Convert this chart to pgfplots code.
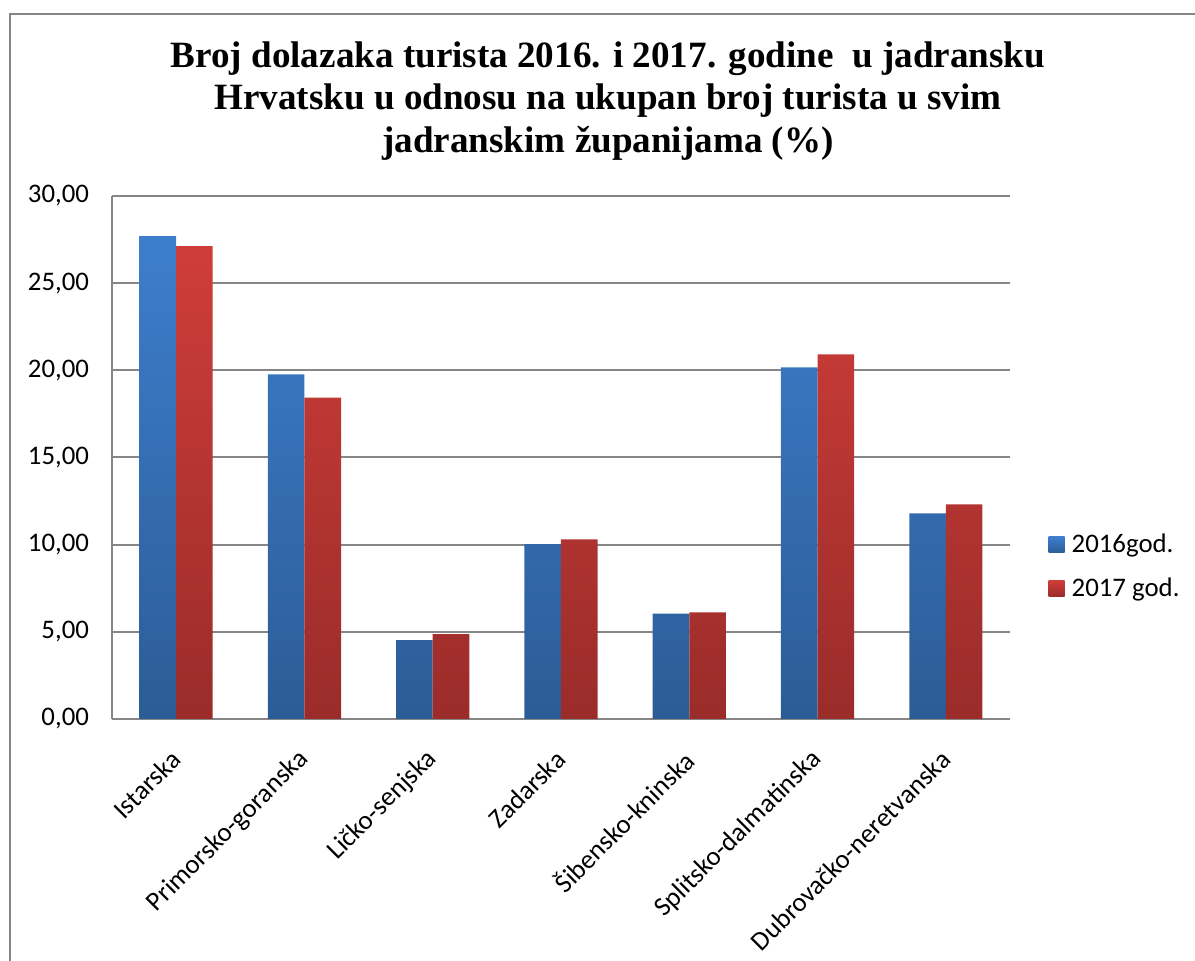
\documentclass[border=0pt]{standalone}
\usepackage{fontspec}
\setmainfont{Liberation Serif}
\newfontfamily\calibri{Carlito}
\usepackage{pgfplots}
\pgfplotsset{compat=1.18}
\definecolor{btop}{RGB}{61,126,205}
\definecolor{bbot}{RGB}{44,92,150}
\definecolor{rtop}{RGB}{207,61,57}
\definecolor{rbot}{RGB}{154,44,42}
\definecolor{gridc}{RGB}{134,134,134}
\begin{document}
\begin{tikzpicture}
\path[use as bounding box] (0,0) rectangle (597.5pt,480.5pt);
\draw[gridc, line width=1pt] (5pt,0) -- (5pt,473.5pt) -- (597.5pt,473.5pt);
\node[anchor=base, font=\fontsize{18.55}{21}\selectfont\bfseries] at (304pt,446.8pt) {Broj dolazaka turista 2016. i 2017. godine\ \ u jadransku};
\node[anchor=base, font=\fontsize{18.55}{21}\selectfont\bfseries] at (304pt,425.5pt) {Hrvatsku u odnosu na ukupan broj turista u svim};
\node[anchor=base, font=\fontsize{18.55}{21}\selectfont\bfseries] at (304pt,404pt) {jadranskim županijama (\%)};
\begin{axis}[
  at={(56pt,121pt)}, anchor=south west,
  scale only axis, width=449pt, height=261.5pt,
  xmin=-0.5, xmax=6.5, ymin=0, ymax=30,
  ytick={0,5,...,30},
  xtick={0,...,6},
  xticklabels={Istarska,Primorsko-goranska,Ličko-senjska,Zadarska,Šibensko-kninska,Splitsko-dalmatinska,Dubrovačko-neretvanska},
  axis x line*=bottom, axis y line*=left,
  axis line style={gridc, line width=1pt},
  ymajorgrids, grid style={gridc, line width=1pt},
  major tick length=0pt,
  tick label style={font=\fontsize{13.4}{15}\selectfont\calibri},
  /pgf/number format/.cd, fixed, fixed zerofill, precision=2, use comma, assume math mode=true,
  /pgfplots/.cd,
  yticklabel style={xshift=-8pt},
  xticklabel style={rotate=45, anchor=east, inner sep=0pt},
  xticklabel shift=18pt,
  ybar=0pt, bar width=18.3pt,
  legend style={at={(1.036,0.291)}, anchor=west, draw=none, fill=none,
    font=\fontsize{13.4}{15}\selectfont\calibri, row sep=7pt,
    /tikz/every odd column/.append style={column sep=1.5pt}},
  legend image code/.code={\path[#1] (0pt,-4pt) rectangle (8pt,4pt);},
  legend cell align=left,
]
\addplot[draw=none, top color=btop, bottom color=bbot] coordinates {(0,27.70) (1,19.77) (2,4.52) (3,10.03) (4,6.05) (5,20.17) (6,11.79)};
\addplot[draw=none, top color=rtop, bottom color=rbot] coordinates {(0,27.13) (1,18.43) (2,4.87) (3,10.30) (4,6.11) (5,20.92) (6,12.31)};
\legend{2016god.,2017 god.}
\end{axis}
\end{tikzpicture}
\end{document}
